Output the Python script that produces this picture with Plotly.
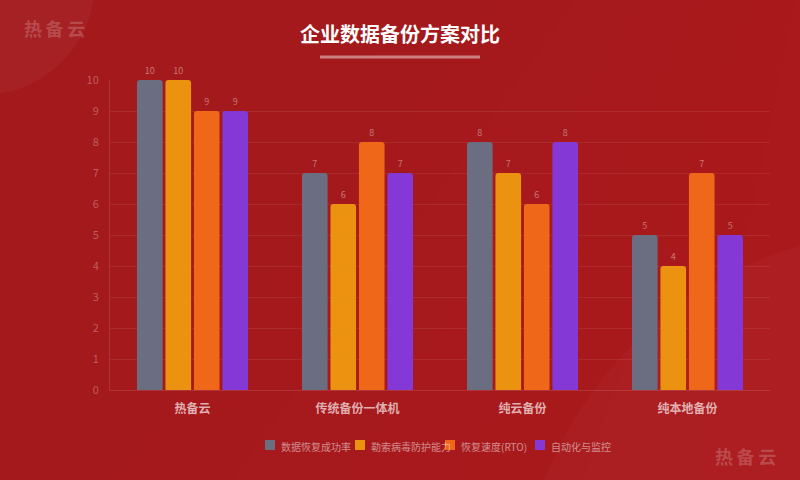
import plotly.graph_objects as go

# 方案与指标
categories = ["热备云", "传统备份一体机", "纯云备份", "纯本地备份"]
series_names = ["数据恢复成功率", "勒索病毒防护能力", "恢复速度(RTO)", "自动化与监控"]
recovery_rate = [10, 7, 8, 5]
ransomware = [10, 6, 7, 4]
rto_speed = [9, 8, 6, 7]
automation = [9, 7, 8, 5]
y_ticks = [0, 1, 2, 3, 4, 5, 6, 7, 8, 9, 10]

colors = ["#6b6e80", "#eb9310", "#ef6718", "#8438d6"]
font_cjk = "Noto Sans CJK SC"

# 绘图区像素 -> paper 坐标
L, R, T, B = 110, 30, 80, 90
PW, PH = 800 - L - R, 480 - T - B


def px(x):
    return (x - L) / PW


def py(y):
    return 1 - (y - T) / PH


fig = go.Figure()
for name, vals, c in zip(series_names, [recovery_rate, ransomware, rto_speed, automation], colors):
    fig.add_trace(go.Bar(
        x=categories, y=vals, name=name,
        marker=dict(color=c, line=dict(width=0)),
        text=vals, textposition="outside",
        textfont=dict(size=9, color="rgba(255,255,255,0.4)", family=font_cjk),
        cliponaxis=False, showlegend=False,
    ))

fig.update_layout(
    width=800, height=480,
    paper_bgcolor="#a3191c",
    plot_bgcolor="rgba(0,0,0,0)",
    margin=dict(l=L, r=R, t=T, b=B),
    font=dict(family=font_cjk),
    barmode="group",
    bargap=0.31,
    bargroupgap=0.1,
    barcornerradius=3,
    title=dict(
        text="<b>企业数据备份方案对比</b>", x=0.5, xanchor="center", y=0.927, yanchor="middle",
        font=dict(size=20, color="white", family=font_cjk),
    ),
)

fig.update_xaxes(
    showgrid=False, showline=True, linecolor="rgba(255,255,255,0.12)",
    tickfont=dict(size=12, color="rgba(255,255,255,0.66)"), ticks="",
    ticklabelstandoff=8,
    tickvals=categories, ticktext=["<b>%s</b>" % c for c in categories],
)
fig.update_yaxes(
    range=[0, 10], tickvals=y_ticks, showgrid=True, gridcolor="rgba(255,255,255,0.07)",
    showline=True, linecolor="rgba(255,255,255,0.12)", zeroline=False,
    tickfont=dict(size=11, color="rgba(255,255,255,0.3)"), ticks="", ticklabelstandoff=8,
)

# 背景渐变(左上暗, 右下亮)
for i in range(10):
    s = 0.15 * i
    fig.add_shape(type="path", xref="paper", yref="paper", layer="below",
                  path="M %f %f L %f %f L %f %f Z" % (px(-20) + s * 1.2, py(500),
                                                      px(820), py(500),
                                                      px(820), py(-20) - s * 1.2 + 1.4),
                  fillcolor="rgba(255,50,50,0.018)", line=dict(width=0))
fig.add_shape(type="circle", xref="paper", yref="paper", layer="below",
              x0=px(-130), x1=px(95), y0=py(95), y1=py(-130),
              fillcolor="rgba(255,255,255,0.035)", line=dict(width=0))
fig.add_shape(type="circle", xref="paper", yref="paper", layer="below",
              x0=px(520), x1=px(1300), y0=py(1000), y1=py(230),
              fillcolor="rgba(255,255,255,0.025)", line=dict(width=0))

# 标题下划线
fig.add_shape(type="line", xref="paper", yref="paper",
              x0=px(320), x1=px(480), y0=py(57), y1=py(57),
              line=dict(color="rgba(255,255,255,0.45)", width=3))

# 图例(手动绘制)
for i, (name, c) in enumerate(zip(series_names, colors)):
    x0 = 265 + 90 * i
    fig.add_annotation(text=name, xref="paper", yref="paper", x=px(x0 + 14), y=py(446.5),
                       xanchor="left", yanchor="middle", showarrow=False,
                       font=dict(size=10, color="rgba(255,255,255,0.5)", family=font_cjk))
for i, (name, c) in enumerate(zip(series_names, colors)):
    x0 = 265 + 90 * i
    fig.add_shape(type="rect", xref="paper", yref="paper", layer="above",
                  x0=px(x0), x1=px(x0 + 10), y0=py(450), y1=py(440),
                  fillcolor=c, line=dict(width=0))

# 水印
for x, anchor, y in [(22, "left", 28), (778, "right", 456)]:
    fig.add_annotation(text="<b>热\u2009备\u2009云</b>", xref="paper", yref="paper", x=px(x), y=py(y),
                       xanchor=anchor, yanchor="middle", showarrow=False,
                       font=dict(size=18, color="rgba(255,255,255,0.2)", family=font_cjk))

fig.write_html("out.html", config={"displayModeBar": False},
               post_script="document.body.style.margin='0';")
